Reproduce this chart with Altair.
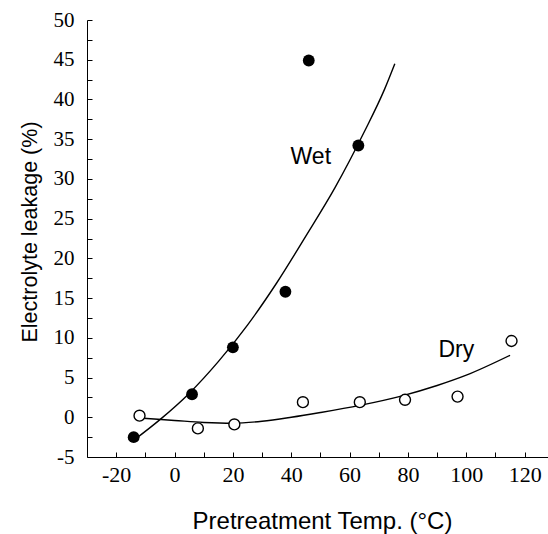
import altair as alt
import pandas as pd

# Measured points
wet_temp = [-14, 6, 20, 38, 46, 63]
wet_leak = [-2.5, 2.9, 8.8, 15.8, 44.9, 34.2]
dry_temp = [-12, 8, 20.5, 44, 63.5, 79, 97, 115.5]
dry_leak = [0.2, -1.4, -0.9, 1.9, 1.9, 2.2, 2.6, 9.6]

# Fitted curves
wet_fit_temp = [-14, -5, 5, 15, 25, 35, 45, 55, 65, 72, 75.5]
wet_fit_leak = [-2.9, -0.3, 3.0, 7.0, 11.6, 16.9, 22.8, 28.9, 35.9, 41.3, 44.5]
dry_fit_temp = [-12, 0, 10, 20, 30, 40, 50, 63.5, 78, 90, 100, 115]
dry_fit_leak = [-0.1, -0.4, -0.65, -0.75, -0.5, 0.0, 0.6, 1.5, 2.7, 4.0, 5.3, 7.8]

label_text = ["Wet", "Dry"]
label_temp = [46.7, 96.6]
label_leak = [32.8, 8.5]

x_labels = list(range(-20, 121, 20))
y_labels = list(range(-5, 51, 5))
x_ticks = list(range(-20, 121, 10))
y_ticks = [v / 2 for v in range(-10, 101, 5)]

wet_df = pd.DataFrame({"temp": wet_temp, "leak": wet_leak})
dry_df = pd.DataFrame({"temp": dry_temp, "leak": dry_leak})
wet_fit = pd.DataFrame({"temp": wet_fit_temp, "leak": wet_fit_leak})
dry_fit = pd.DataFrame({"temp": dry_fit_temp, "leak": dry_fit_leak})
labels = pd.DataFrame({"text": label_text, "temp": label_temp, "leak": label_leak})

x_scale = alt.Scale(domain=[-30, 128], nice=False, zero=False)
y_scale = alt.Scale(domain=[-5, 50], nice=False, zero=False)

X = alt.X(
    "temp:Q",
    scale=x_scale,
    axis=alt.Axis(
        orient="bottom",
        values=x_labels,
        labelExpr="'' + datum.value",
        ticks=False,
        labelFontSize=22,
        labelPadding=7,
        title="Pretreatment Temp. (\u00b0C)",
        titleFontSize=24,
        titleX=235,
        titleY=64,
        titleAlign="center",
        titleBaseline="middle",
    ),
)
Y = alt.Y(
    "leak:Q",
    scale=y_scale,
    axis=alt.Axis(
        orient="left",
        values=y_labels,
        labelExpr="'' + datum.value",
        ticks=False,
        labelFontSize=21,
        labelPadding=13,
        title="Electrolyte leakage (%)",
        titleFontSize=21.5,
        titleX=-57,
        titleY=211.5,
        titleAngle=-90,
        titleAlign="center",
        titleBaseline="middle",
    ),
)

# inward tick marks drawn by a second, label-less axis on the same scales
X_ticks = alt.X(
    "temp:Q",
    scale=x_scale,
    axis=alt.Axis(
        orient="bottom",
        values=x_ticks,
        labels=False,
        domain=False,
        title=None,
        tickSize=alt.ExprRef(expr="-5"),
    ),
)
Y_ticks = alt.Y(
    "leak:Q",
    scale=y_scale,
    axis=alt.Axis(
        orient="left",
        values=y_ticks,
        labels=False,
        domain=False,
        title=None,
        tickSize=alt.ExprRef(expr="-5"),
    ),
)

main = alt.layer(
    alt.Chart(wet_fit).mark_line(color="black", strokeWidth=1.4, interpolate="monotone").encode(x=X, y=Y),
    alt.Chart(dry_fit).mark_line(color="black", strokeWidth=1.4, interpolate="monotone").encode(x=X, y=Y),
    alt.Chart(wet_df).mark_point(shape="circle", filled=True, color="black", size=140, opacity=1).encode(x=X, y=Y),
    alt.Chart(dry_df).mark_point(
        shape="circle", filled=True, fill="white", stroke="black", strokeWidth=1.4, size=120, opacity=1
    ).encode(x=X, y=Y),
    alt.Chart(labels).mark_text(
        font="Liberation Sans", fontSize=23, color="black", align="center", baseline="middle"
    ).encode(x=X, y=Y, text="text:N"),
)

tick_layer = alt.Chart(wet_df).mark_point(opacity=0).encode(x=X_ticks, y=Y_ticks)

chart = (
    alt.layer(main, tick_layer)
    .resolve_axis(x="independent", y="independent")
    .properties(
        width=461,
        height=437,
        autosize=alt.AutoSizeParams(type="none"),
        padding={"left": 87, "top": 20, "right": 0, "bottom": 77},
        background="white",
    )
    .configure_view(stroke=None)
    .configure_axis(
        labelFont="Liberation Serif",
        labelColor="black",
        tickColor="black",
        domainColor="black",
        grid=False,
        titleFont="Liberation Sans",
        titleFontWeight="normal",
        titleColor="black",
    )
)

chart.save("out.html", embed_options={"renderer": "svg", "actions": False})
